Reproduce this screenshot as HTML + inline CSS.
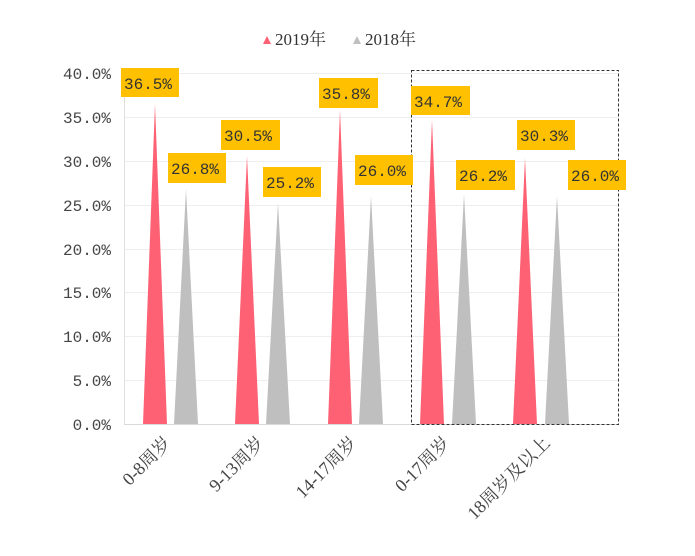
<!DOCTYPE html>
<html><head><meta charset="utf-8"><style>body{margin:0;background:#fff}</style></head><body>
<svg width="695" height="551" xmlns="http://www.w3.org/2000/svg" font-family="'Liberation Mono','Noto Serif CJK SC',monospace">
<rect width="695" height="551" fill="#fff"/>
<g stroke="#eeeeee" stroke-width="1">
<line x1="124" x2="618" y1="73.5" y2="73.5"/><line x1="124" x2="618" y1="117.5" y2="117.5"/>
<line x1="124" x2="618" y1="161.5" y2="161.5"/><line x1="124" x2="618" y1="205.5" y2="205.5"/>
<line x1="124" x2="618" y1="249.5" y2="249.5"/><line x1="124" x2="618" y1="292.5" y2="292.5"/>
<line x1="124" x2="618" y1="336.5" y2="336.5"/><line x1="124" x2="618" y1="380.5" y2="380.5"/>
</g>
<line x1="124.5" x2="124.5" y1="73" y2="424" stroke="#e0e0e0"/>
<line x1="124" x2="618" y1="424.5" y2="424.5" stroke="#d9d9d9"/>
<g font-size="16" fill="#444" text-anchor="end">
<text x="111" y="79">40.0%</text><text x="111" y="123">35.0%</text><text x="111" y="167">30.0%</text>
<text x="111" y="211">25.0%</text><text x="111" y="255">20.0%</text><text x="111" y="298">15.0%</text>
<text x="111" y="342">10.0%</text><text x="111" y="386">5.0%</text><text x="111" y="430">0.0%</text>
</g>
<g fill="#ff6174">
<polygon points="143,424 155,104 167,424"/>
<polygon points="235,424 247,156 259,424"/>
<polygon points="328,424 340,110 352,424"/>
<polygon points="420,424 432,120 444,424"/>
<polygon points="513,424 525,158 537,424"/>
</g>
<g fill="#bfbfbf">
<polygon points="174,424 186,189 198,424"/>
<polygon points="266,424 278,203 290,424"/>
<polygon points="359,424 371,196 383,424"/>
<polygon points="452,424 464,194 476,424"/>
<polygon points="545,424 557,196 569,424"/>
</g>
<rect x="411.5" y="70.5" width="207" height="354" fill="none" stroke="#333" stroke-dasharray="3,2"/>
<g font-size="16" fill="#333">
<rect x="121" y="68" width="58" height="29" fill="#ffc000"/><text x="124" y="89">36.5%</text>
<rect x="168" y="153" width="58" height="30" fill="#ffc000"/><text x="171" y="174">26.8%</text>
<rect x="221" y="120" width="59" height="30" fill="#ffc000"/><text x="224" y="141">30.5%</text>
<rect x="263" y="167" width="58" height="30" fill="#ffc000"/><text x="266" y="188">25.2%</text>
<rect x="319" y="78" width="59" height="30" fill="#ffc000"/><text x="322" y="99">35.8%</text>
<rect x="355" y="155" width="58" height="30" fill="#ffc000"/><text x="358" y="176">26.0%</text>
<rect x="411" y="86" width="59" height="29" fill="#ffc000"/><text x="414" y="107">34.7%</text>
<rect x="456" y="160" width="59" height="30" fill="#ffc000"/><text x="459" y="181">26.2%</text>
<rect x="517" y="120" width="58" height="30" fill="#ffc000"/><text x="520" y="141">30.3%</text>
<rect x="568" y="160" width="58" height="30" fill="#ffc000"/><text x="571" y="181">26.0%</text>
</g>
<g font-size="18" fill="#444" text-anchor="end" font-family="'Liberation Serif','Noto Serif CJK SC',serif">
<text transform="translate(172,444) rotate(-45)">0-8周岁</text>
<text transform="translate(265,444) rotate(-45)">9-13周岁</text>
<text transform="translate(358,444) rotate(-45)">14-17周岁</text>
<text transform="translate(451,444) rotate(-45)">0-17周岁</text>
<text transform="translate(551,444) rotate(-45)">18周岁及以上</text>
</g>
<polygon points="263,44 267,36 271,44" fill="#ff6174"/>
<polygon points="353,44 357,36 361,44" fill="#bfbfbf"/>
<g font-size="17" fill="#333" font-family="'Liberation Serif','Noto Serif CJK SC',serif">
<text x="275" y="45">2019年</text><text x="365" y="45">2018年</text>
</g>
</svg>
</body></html>
